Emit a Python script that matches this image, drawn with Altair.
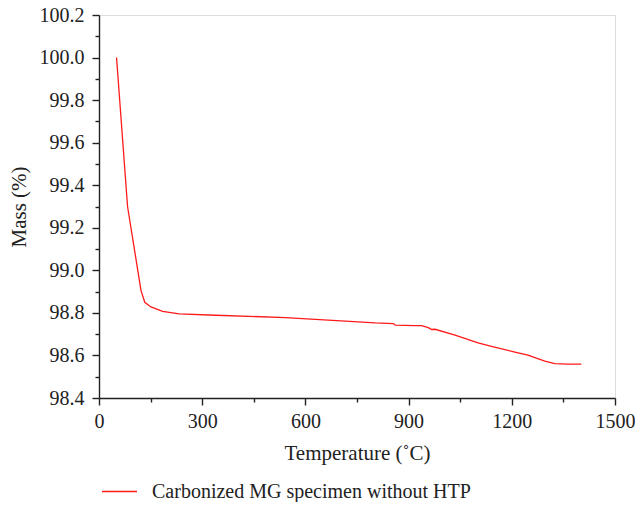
import altair as alt
import pandas as pd

temperature = [51, 83, 122, 133, 151, 185, 233, 339, 542, 803, 856, 861, 919, 938,
               957, 967, 977, 1035, 1102, 1141, 1209, 1247, 1296, 1325, 1363, 1402]
mass = [100.0, 99.30, 98.906, 98.85, 98.828, 98.807, 98.795, 98.789, 98.778, 98.753,
        98.75, 98.742, 98.74, 98.74, 98.731, 98.722, 98.723, 98.695, 98.659, 98.643,
        98.616, 98.601, 98.573, 98.562, 98.559, 98.559]
series_name = "Carbonized MG specimen without HTP"

x_major = [0, 300, 600, 900, 1200, 1500]
x_minor = [150, 450, 750, 1050, 1350]
y_major = [98.4, 98.6, 98.8, 99.0, 99.2, 99.4, 99.6, 99.8, 100.0, 100.2]
y_minor = [98.5, 98.7, 98.9, 99.1, 99.3, 99.5, 99.7, 99.9, 100.1]

df = pd.DataFrame({"T": temperature, "M": mass, "s": [series_name] * len(mass)})

FONT = "Liberation Serif"
INK = "#222"
xs = alt.Scale(domain=[0, 1500], nice=False, zero=False)
ys = alt.Scale(domain=[98.4, 100.2], nice=False, zero=False)

common = dict(tickSize=7, labelFontSize=20, titleFontSize=21, domainColor=INK,
              tickColor=INK, domainWidth=1.4, tickWidth=1.4, grid=False,
              labelFont=FONT, titleFont=FONT, labelColor=INK, titleColor=INK,
              titleFontWeight="normal", labelFlush=False)

main = alt.Chart(df).mark_line(strokeWidth=1.3).encode(
    x=alt.X("T:Q", scale=xs, title="Temperature (˚C)",
            axis=alt.Axis(orient="bottom", values=x_major, format="d",
                          labelPadding=6, titlePadding=11, **common)),
    y=alt.Y("M:Q", scale=ys, title="Mass (%)",
            axis=alt.Axis(orient="left", values=y_major, format=".1f",
                          labelPadding=8, titlePadding=10, **common)),
    color=alt.Color("s:N", scale=alt.Scale(range=["#ff1a1a"]), title=None,
                    legend=alt.Legend(orient="none", legendX=2, legendY=458,
                                      symbolType="stroke", symbolSize=1225,
                                      symbolStrokeWidth=1.3, labelFontSize=20,
                                      labelFont=FONT, labelColor=INK, labelLimit=0,
                                      labelOffset=14, padding=0)),
)

minor = alt.Chart(df).mark_line(opacity=0).encode(
    x=alt.X("T:Q", scale=xs, title=None,
            axis=alt.Axis(orient="bottom", values=x_minor, tickSize=4, labels=False,
                          domain=False, tickColor=INK, tickWidth=1.4, grid=False)),
    y=alt.Y("M:Q", scale=ys, title=None,
            axis=alt.Axis(orient="left", values=y_minor, tickSize=4, labels=False,
                          domain=False, tickColor=INK, tickWidth=1.4, grid=False)),
)

chart = alt.layer(main, minor).resolve_axis(x="independent", y="independent").properties(
    width=516, height=383,
    autosize=alt.AutoSizeParams(type="none"),
    padding={"left": 91, "top": 7, "right": 20, "bottom": 104},
).configure_view(stroke=INK, strokeWidth=1.4).configure(background="white")

chart.save("out.html", embed_options={"renderer": "svg", "actions": False})
